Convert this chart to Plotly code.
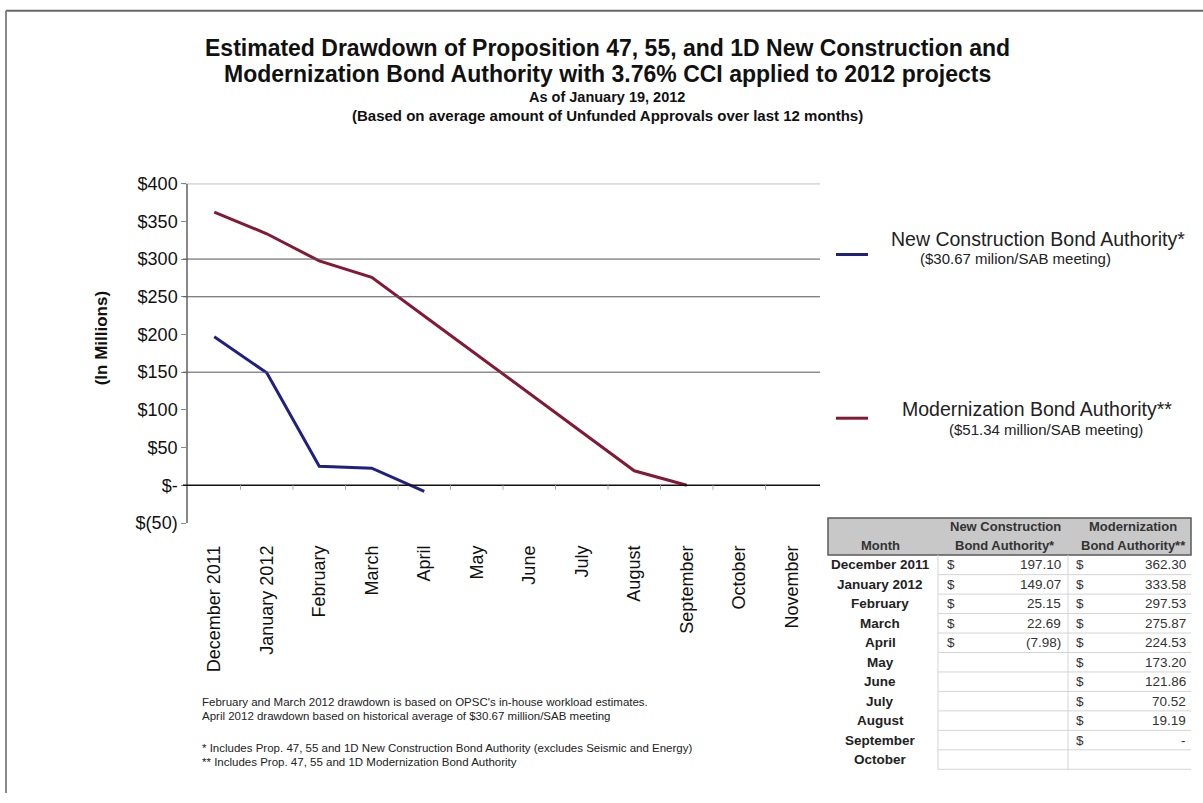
import plotly.graph_objects as go

W, H = 1203, 803

months = ["December 2011", "January 2012", "February", "March", "April", "May",
          "June", "July", "August", "September", "October", "November"]
table_months = ["December 2011", "January 2012", "February", "March", "April", "May",
                "June", "July", "August", "September", "October"]
new_construction = [197.10, 149.07, 25.15, 22.69, -7.98]
modernization = [362.30, 333.58, 297.53, 275.87, 224.53, 173.20, 121.86, 70.52, 19.19, 0.0]
y_ticks = [-50, 0, 50, 100, 150, 200, 250, 300, 350, 400]
grid_values = [400, 300, 250, 150]

NC_COLOR = "#202082"
MOD_COLOR = "#821a36"
FONT = "Liberation Sans, Arial, sans-serif"

# vertical placement helper (screen rows -> layout rows)
V_OFF, V_SCALE = 9.0, 0.977


def vy(y):
    return (y - V_OFF) / V_SCALE


def px(x):
    return x / W


def py(y):
    return min(1.0, max(0.0, 1 - vy(y) / H))


def money_tick(v):
    if v < 0:
        return f"$({abs(v):.0f})"
    if v == 0:
        return "$-"
    return f"${v:.0f}"


def money_cell(v):
    if v < 0:
        return f"({abs(v):.2f})"
    if v == 0:
        return "-"
    return f"{v:.2f}"


fig = go.Figure()
fig.add_trace(go.Scatter(x=months[:len(new_construction)], y=new_construction,
                         mode="lines", line=dict(color=NC_COLOR, width=3),
                         showlegend=False, hoverinfo="x+y"))
fig.add_trace(go.Scatter(x=months[:len(modernization)], y=modernization,
                         mode="lines", line=dict(color=MOD_COLOR, width=3),
                         showlegend=False, hoverinfo="x+y"))

shapes = []
ann = []

# gridlines and zero line
for g in grid_values:
    shapes.append(dict(type="line", xref="paper", yref="y", x0=px(183), x1=px(820),
                       y0=g, y1=g, line=dict(color="#555", width=1)))
shapes.append(dict(type="line", xref="paper", yref="y", x0=px(183), x1=px(820),
                   y0=0, y1=0, line=dict(color="#111", width=1.5)))
for i in range(1, len(months)):
    shapes.append(dict(type="line", xref="x", yref="y", x0=i - 0.5, x1=i - 0.5,
                       y0=0, y1=-6, line=dict(color="#aaa", width=1)))

# legend keys
shapes.append(dict(type="line", xref="paper", yref="paper", x0=px(836), x1=px(868),
                   y0=py(254), y1=py(254), line=dict(color=NC_COLOR, width=3)))
shapes.append(dict(type="line", xref="paper", yref="paper", x0=px(836), x1=px(868),
                   y0=py(418), y1=py(418), line=dict(color=MOD_COLOR, width=3)))

# ---- data table ----
T_LEFT, T_RIGHT = 828, 1191
HDR_TOP, HDR_BOT = 518, 555
ROW0, ROW_H = 565, 19.5
X_MONTH, X_D1, X_V1, X_SEP1, X_SEP2, X_D2, X_V2 = 880, 945, 1063, 938, 1068, 1074, 1188

shapes.append(dict(type="rect", xref="paper", yref="paper", x0=px(T_LEFT), x1=px(T_RIGHT),
                   y0=py(HDR_BOT), y1=py(HDR_TOP), fillcolor="#c8c8c8",
                   line=dict(color="#5a5a5a", width=1.5), layer="below"))
n_rows = len(table_months)
t_bottom = ROW0 + ROW_H * (n_rows - 0.5)
for i in range(1, n_rows + 1):
    yb = ROW0 + ROW_H * (i - 0.5)
    shapes.append(dict(type="line", xref="paper", yref="paper", x0=px(X_SEP1), x1=px(T_RIGHT),
                       y0=py(yb), y1=py(yb), line=dict(color="#d4d4d4", width=1)))
for xs in (X_SEP1, X_SEP2):
    shapes.append(dict(type="line", xref="paper", yref="paper", x0=px(xs), x1=px(xs),
                       y0=py(HDR_BOT), y1=py(t_bottom), line=dict(color="#d4d4d4", width=1)))

HDR_FONT = dict(family=FONT, size=13, color="#333")
ann.append(dict(text="<b>Month</b>", x=px(X_MONTH), y=py(546), font=HDR_FONT))
ann.append(dict(text="<b>New Construction</b>", x=px(1005), y=py(527), font=HDR_FONT))
ann.append(dict(text="<b>Bond Authority*</b>", x=px(1005), y=py(546), font=HDR_FONT))
ann.append(dict(text="<b>Modernization</b>", x=px(1133), y=py(527), font=HDR_FONT))
ann.append(dict(text="<b>Bond Authority**</b>", x=px(1133), y=py(546), font=HDR_FONT))

CELL_FONT = dict(family=FONT, size=13.5, color="#333")
for i, m in enumerate(table_months):
    yr = ROW0 + ROW_H * i
    ann.append(dict(text=f"<b>{m}</b>", x=px(X_MONTH), y=py(yr),
                    font=dict(family=FONT, size=13.5, color="#222")))
    if i < len(new_construction):
        ann.append(dict(text="$", x=px(X_D1), y=py(yr), xanchor="left", font=CELL_FONT))
        ann.append(dict(text=money_cell(new_construction[i]), x=px(X_V1), y=py(yr),
                        xanchor="right", font=CELL_FONT))
    if i < len(modernization):
        ann.append(dict(text="$", x=px(X_D2), y=py(yr), xanchor="left", font=CELL_FONT))
        ann.append(dict(text=money_cell(modernization[i]), x=px(X_V2), y=py(yr),
                        xanchor="right", font=CELL_FONT))

# page border
shapes.append(dict(type="line", xref="paper", yref="paper", x0=px(6), x1=1,
                   y0=0.999, y1=0.999, line=dict(color="#666", width=2)))
shapes.append(dict(type="line", xref="paper", yref="paper", x0=px(6), x1=px(6),
                   y0=0.999, y1=0, line=dict(color="#888", width=2)))

# titles
cx = px(607)
ann.append(dict(text="<b>Estimated Drawdown of Proposition 47, 55, and 1D New Construction and</b>",
                x=cx, y=py(47), font=dict(family=FONT, size=23, color="#111")))
ann.append(dict(text="<b>Modernization Bond Authority with 3.76% CCI applied to 2012 projects</b>",
                x=cx, y=py(73), font=dict(family=FONT, size=23, color="#111")))
ann.append(dict(text="<b>As of January 19, 2012</b>",
                x=cx, y=py(96), font=dict(family=FONT, size=14.5, color="#111")))
ann.append(dict(text="<b>(Based on average amount of Unfunded Approvals over last 12 months)</b>",
                x=cx, y=py(115), font=dict(family=FONT, size=15, color="#111")))
ann.append(dict(text="<b>(In Millions)</b>", x=px(101), y=py(338), textangle=-90,
                font=dict(family=FONT, size=17, color="#111")))

# legend texts
ann.append(dict(text="New Construction Bond Authority*", x=px(1038), y=py(238),
                font=dict(family=FONT, size=19.5, color="#222")))
ann.append(dict(text="($30.67 milion/SAB meeting)", x=px(1016), y=py(258),
                font=dict(family=FONT, size=15, color="#222")))
ann.append(dict(text="Modernization Bond Authority**", x=px(1037), y=py(409),
                font=dict(family=FONT, size=19.5, color="#222")))
ann.append(dict(text="($51.34 million/SAB meeting)", x=px(1046), y=py(429),
                font=dict(family=FONT, size=15, color="#222")))

notes = [
    ("February and March 2012 drawdown is based on OPSC's in-house workload estimates.", 702),
    ("April 2012 drawdown based on historical average of $30.67 million/SAB meeting", 716),
    ("* Includes Prop. 47, 55 and 1D New Construction Bond Authority (excludes Seismic and Energy)", 748),
    ("** Includes Prop. 47, 55 and 1D Modernization Bond Authority", 762),
]
for t, y in notes:
    ann.append(dict(text=t, x=px(200), y=py(y), xanchor="left",
                    font=dict(family=FONT, size=11.5, color="#222")))

for a in ann:
    a.setdefault("xanchor", "center")
    a.update(xref="paper", yref="paper", yanchor="middle", showarrow=False)

plot_top, plot_bot = 183, 523
fig.update_layout(
    width=W, height=H, margin=dict(l=0, r=0, t=0, b=0, pad=0),
    paper_bgcolor="white", plot_bgcolor="rgba(0,0,0,0)",
    font=dict(family=FONT, color="#111"),
    shapes=shapes, annotations=ann, showlegend=False,
    xaxis=dict(type="category", categoryorder="array", categoryarray=months,
               range=[-0.5, len(months) - 0.5], domain=[px(188), px(818)],
               showgrid=False, zeroline=False, showline=False, ticks="",
               tickangle=-90, ticklabelstandoff=round(vy(541) - vy(plot_bot)),
               tickfont=dict(family=FONT, size=18, color="#111")),
    yaxis=dict(range=[-50, 400], domain=[py(plot_bot), py(plot_top)],
               tickvals=y_ticks, ticktext=[money_tick(v) for v in y_ticks],
               showgrid=False, zeroline=False, showline=True, linecolor="#888",
               linewidth=1.5, ticks="outside", ticklen=5, tickcolor="#888",
               tickfont=dict(family=FONT, size=18, color="#111")),
)

fig.write_html("out.html", config={"displayModeBar": False},
               post_script="document.body.style.margin='0';")
